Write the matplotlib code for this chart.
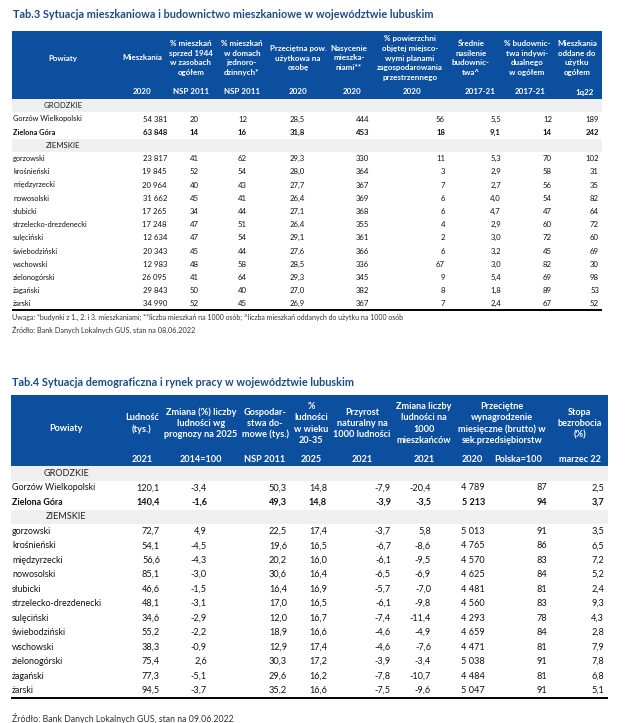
import matplotlib
matplotlib.use("Agg")
import matplotlib.pyplot as plt
from matplotlib.patches import Rectangle

plt.rcParams['font.family'] = ['Lato', 'DejaVu Sans']

BLUE = "#0b4f9e"
TITLE_BLUE = "#1d4a8a"
GRAY = "#efefef"

# ---------------- Tab.3 data ----------------
t3_title = "Tab.3 Sytuacja mieszkaniowa i budownictwo mieszkaniowe w województwie lubuskim"
t3_headers = ["Powiaty", "Mieszkania", "% mieszkań\nsprzed 1944\nw zasobach\nogółem",
              "% mieszkań\nw domach\njednoro-\ndzinnych*", "Przeciętna pow.\nużytkowa na\nosobę",
              "Nasycenie\nmieszka-\nniami**",
              "% powierzchni\nobjętej miejsco-\nwymi planami\nzagospodarowania\nprzestrzennego",
              "Średnie\nnasilenie\nbudownic-\ntwa^", "% budownic-\ntwa indywi-\ndualnego\nw ogółem",
              "Mieszkania\noddane do\nużytku\nogółem"]
t3_periods = ["", "2020", "NSP 2011", "NSP 2011", "2020", "2020", "2020", "2017-21", "2017-21", "1q22"]
t3_cities = ["Gorzów Wielkopolski", "Zielona Góra"]
t3_powiaty = ["gorzowski", "krośnieński", "międzyrzecki", "nowosolski", "słubicki",
              "strzelecko-drezdenecki", "sulęciński", "świebodziński", "wschowski",
              "zielonogórski", "żagański", "żarski"]
t3_mieszkania = [54381, 63848, 23817, 19845, 20964, 31662, 17265, 17248, 12634, 20343, 12983, 26095, 29843, 34990]
t3_przed1944 = [20, 14, 41, 52, 40, 45, 34, 47, 47, 45, 48, 41, 50, 52]
t3_jednorodz = [12, 16, 62, 54, 43, 41, 44, 51, 54, 44, 58, 64, 40, 45]
t3_pow_osoba = [28.5, 31.8, 29.3, 28.0, 27.7, 26.4, 27.1, 26.4, 29.1, 27.6, 28.5, 29.3, 27.0, 26.9]
t3_nasycenie = [444, 453, 330, 364, 367, 369, 368, 355, 361, 366, 336, 345, 382, 367]
t3_plany = [56, 18, 11, 3, 7, 6, 6, 4, 2, 6, 67, 9, 8, 7]
t3_nasilenie = [5.5, 9.1, 5.3, 2.9, 2.7, 4.0, 4.7, 2.9, 3.0, 3.2, 3.0, 5.4, 1.8, 2.4]
t3_indyw = [12, 14, 70, 58, 56, 54, 47, 60, 72, 45, 82, 69, 89, 67]
t3_oddane = [189, 242, 102, 31, 35, 82, 64, 72, 60, 69, 30, 98, 53, 52]
t3_note = ("Uwaga: *budynki z 1., 2. i 3. mieszkaniami; **liczba mieszkań na 1000 osób; "
           "^liczba mieszkań oddanych do użytku na 1000 osób")
t3_source = "Źródło: Bank Danych Lokalnych GUS, stan na 08.06.2022"

# ---------------- Tab.4 data ----------------
t4_title = "Tab.4 Sytuacja demograficzna i rynek pracy w województwie lubuskim"
t4_headers = ["Powiaty", "Ludność\n(tys.)", "Zmiana (%) liczby\nludności wg\nprognozy na 2025",
              "Gospodar-\nstwa do-\nmowe (tys.)", "%\nludności\nw wieku\n20-35",
              "Przyrost\nnaturalny na\n1000 ludności", "Zmiana liczby\nludności na\n1000\nmieszkańców",
              "Przeciętne\nwynagrodzenie\nmiesięczne (brutto) w\nsek.przedsiębiorstw", None,
              "Stopa\nbezrobocia\n(%)"]
t4_periods = ["", "2021", "2014=100", "NSP 2011", "2025", "2021", "2021", "2020", "Polska=100", "marzec 22"]
t4_ludnosc = [120.1, 140.4, 72.7, 54.1, 56.6, 85.1, 46.6, 48.1, 34.6, 55.2, 38.3, 75.4, 77.3, 94.5]
t4_prognoza = [-3.4, -1.6, 4.9, -4.5, -4.3, -3.0, -1.5, -3.1, -2.9, -2.2, -0.9, 2.6, -5.1, -3.7]
t4_gosp = [50.3, 49.3, 22.5, 19.6, 20.2, 30.6, 16.4, 17.0, 12.0, 18.9, 12.9, 30.3, 29.6, 35.2]
t4_mlodzi = [14.8, 14.8, 17.4, 16.5, 16.0, 16.4, 16.9, 16.5, 16.7, 16.6, 17.4, 17.2, 16.2, 16.6]
t4_przyrost = [-7.9, -3.9, -3.7, -6.7, -6.1, -6.5, -5.7, -6.1, -7.4, -4.6, -4.6, -3.9, -7.8, -7.5]
t4_zmiana = [-20.4, -3.5, 5.8, -8.6, -9.5, -6.9, -7.0, -9.8, -11.4, -4.9, -7.6, -3.4, -10.7, -9.6]
t4_wyn = [4789, 5213, 5013, 4765, 4570, 4625, 4481, 4560, 4293, 4659, 4471, 5038, 4484, 5047]
t4_wyn_pl = [87, 94, 91, 86, 83, 84, 81, 83, 78, 84, 81, 91, 81, 91]
t4_bezrob = [2.5, 3.7, 3.5, 6.5, 7.2, 5.2, 2.4, 9.3, 4.3, 2.8, 7.9, 7.8, 6.8, 5.1]
t4_source = "Źródło: Bank Danych Lokalnych GUS, stan na 09.06.2022"


def fmt(v, dec):
    if dec == 0:
        s = f"{int(round(v)):,}".replace(",", " ")
    else:
        s = f"{v:.{dec}f}".replace(".", ",")
    return s


def draw_table(ax, t, title, tfs, headers, periods, head_x, period_x, columns, decs, col_right,
               box, pshift, row0, step, fs, hfs, hline, name_fs):
    x0, x1, ytop, ybot = box
    ax.text(x0 + 1, t, title, fontsize=tfs, fontweight="bold", color=TITLE_BLUE,
            va="center", ha="left")
    ax.add_patch(Rectangle((x0, ytop), x1 - x0, ybot - ytop, color=BLUE, lw=0))
    hc = (ytop + ybot) / 2 - 7
    for h, hx in zip(headers, head_x):
        if h is None:
            continue
        hy = hc + pshift if h == "Powiaty" else hc
        ax.text(hx, hy, h, color="white", fontsize=hfs, fontweight="bold", ha="center",
                va="center", linespacing=hline)
    for p, px in zip(periods, period_x):
        ax.text(px, ybot - 7, p, color="white", fontsize=hfs, fontweight="bold",
                ha="center", va="center")

    # row index: 0 GRODZKIE, 1-2 cities, 3 ZIEMSKIE, 4.. powiaty
    for k, label in [(0, "GRODZKIE"), (3, "ZIEMSKIE")]:
        y = row0 + step * k
        ax.add_patch(Rectangle((x0, y - step / 2), x1 - x0, step, color=GRAY, lw=0))
        ax.text(head_x[0], y, label, fontsize=fs, ha="center", va="center", color="#222222")
    all_names = t3_cities + t3_powiaty
    for i, name in enumerate(all_names):
        k = i + 1 if i < 2 else i + 2
        y = row0 + step * k
        bold = "bold" if name == "Zielona Góra" else "normal"
        ax.text(x0 + 1, y, name, fontsize=name_fs, ha="left", va="center",
                fontweight=bold, color="#111111")
        for col, dec, xr in zip(columns, decs, col_right):
            ax.text(xr, y, fmt(col[i], dec), fontsize=fs, ha="right", va="center",
                    fontweight=bold, color="#111111")
    ybottom = row0 + step * 15 + step / 2
    ax.plot([x0, x1], [ybottom, ybottom], color="black", lw=1.4, solid_capstyle="butt")
    return ybottom


fig = plt.figure(figsize=(6.25, 7.23), dpi=100)
ax = fig.add_axes([0, 0, 1, 1])
ax.set_xlim(0, 625)
ax.set_ylim(723, 0)
ax.axis("off")

yb3 = draw_table(ax, 15, t3_title, 7.8, t3_headers, t3_periods,
                 [63, 142, 191, 242, 298, 349, 410, 471, 527, 577],
                 [63, 142, 191, 242, 298, 352, 412, 480, 530, 585],
                 [t3_mieszkania, t3_przed1944, t3_jednorodz, t3_pow_osoba, t3_nasycenie,
                  t3_plany, t3_nasilenie, t3_indyw, t3_oddane],
                 [0, 0, 0, 1, 0, 0, 1, 0, 0],
                 [167, 199, 247, 305, 369, 445, 501, 552, 599],
                 (12, 602, 31, 99), 1, 105.8, 13.2, 5.6, 5.8, 1.45, 5.3)
ax.text(12, yb3 + 7, t3_note, fontsize=5.0, ha="left", va="center", color="#333333")
ax.text(12, yb3 + 20, t3_source, fontsize=5.2, ha="left", va="center", color="#333333")

yb4 = draw_table(ax, 382, t4_title, 7.8, t4_headers, t4_periods,
                 [66, 142, 201, 265, 311, 362, 424, 502, None, 580],
                 [66, 142, 201, 265, 311, 362, 424, 472, 518, 580],
                 [t4_ludnosc, t4_prognoza, t4_gosp, t4_mlodzi, t4_przyrost, t4_zmiana,
                  t4_wyn, t4_wyn_pl, t4_bezrob],
                 [1, 1, 1, 1, 1, 1, 0, 0, 1],
                 [160, 207, 287, 327, 391, 431, 485, 547, 604],
                 (11, 608, 395, 466), 5, 473.3, 14.48, 6.6, 6.6, 1.3, 6.4)
ax.text(12, 719, t4_source, fontsize=6.3, ha="left", va="center", color="#333333")

fig.savefig("out.png", dpi=100)
